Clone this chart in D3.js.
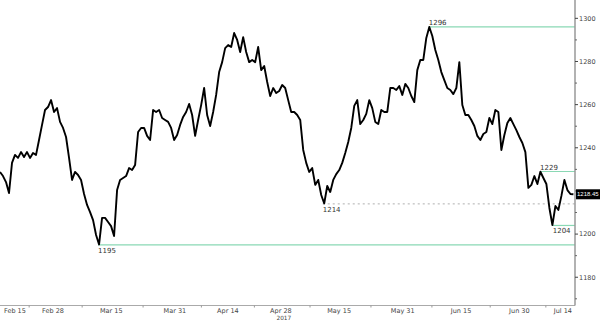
<!DOCTYPE html>
<html>
<head>
<meta charset="utf-8">
<script src="https://cdn.jsdelivr.net/npm/d3@7"></script>
<style>
	body { margin: 0; background: #fff; }
	svg { display: block; font-family: "DejaVu Sans", sans-serif; }
	.lbl { font-size: 7px; fill: #333; }
	.tick-lbl { font-size: 6.5px; fill: #444; }
	.tag-lbl { font-family: "Liberation Sans", Arial, sans-serif; font-size: 6px; fill: #fff; }
</style>
</head>
<body>
<div class="chart"></div>
<script>
// gold spot, sampled across trading days (weekends removed)
var prices = [
	1228.8, 1226.9, 1224.1, 1219.0, 1233.0, 1236.7, 1235.3, 1238.0, 1235.7, 1238.0,
	1235.3, 1237.6, 1236.7, 1243.6, 1250.6, 1257.5, 1258.9, 1262.1, 1256.6, 1258.4,
	1252.0, 1249.2, 1245.0, 1235.3, 1225.1, 1228.8, 1227.4, 1225.1, 1218.6, 1213.5,
	1210.2, 1206.5, 1199.6, 1195.2, 1207.5, 1207.5, 1205.6, 1203.7, 1199.1, 1220.4,
	1225.1, 1226.0, 1226.9, 1230.6, 1229.7, 1232.0, 1247.3, 1249.2, 1249.2, 1245.5,
	1243.6, 1257.5, 1256.6, 1257.5, 1253.8, 1252.9, 1252.0, 1249.2, 1243.6, 1245.9,
	1250.6, 1254.3, 1256.6, 1260.3, 1255.2, 1245.5, 1252.9, 1259.8, 1267.7, 1255.2,
	1250.1, 1256.6, 1264.5, 1275.1, 1279.7, 1286.2, 1287.6, 1286.7, 1293.2, 1290.0,
	1284.4, 1291.3, 1284.4, 1279.7, 1280.7, 1279.7, 1286.7, 1276.0, 1277.9, 1270.5,
	1264.0, 1267.7, 1265.4, 1266.3, 1269.1, 1267.7, 1262.1, 1256.6, 1256.6, 1255.2,
	1252.9, 1239.0, 1233.0, 1228.8, 1230.6, 1222.8, 1225.1, 1218.1, 1214.2, 1222.3,
	1219.5, 1225.1, 1227.8, 1229.7, 1233.0, 1237.6, 1242.7, 1249.2, 1259.4, 1262.1,
	1251.0, 1252.9, 1255.7, 1262.1, 1258.4, 1252.0, 1251.0, 1257.5, 1256.6, 1256.6,
	1267.7, 1267.7, 1266.8, 1268.6, 1264.5, 1269.6, 1267.7, 1264.0, 1261.2, 1276.0,
	1280.7, 1280.7, 1290.9, 1296.0, 1291.8, 1285.3, 1280.7, 1275.1, 1271.4, 1267.7,
	1266.8, 1264.9, 1267.7, 1279.7, 1259.8, 1255.2, 1255.2, 1252.9, 1250.1, 1245.5,
	1243.6, 1246.4, 1247.3, 1253.8, 1251.0, 1257.5, 1256.6, 1239.0, 1245.9, 1251.5,
	1253.8, 1251.0, 1248.2, 1245.0, 1242.2, 1238.0, 1221.4, 1222.8, 1226.9, 1223.2,
	1228.9, 1226.0, 1223.2, 1212.1, 1204.2, 1213.0, 1211.2, 1217.7, 1225.1, 1220.4,
	1218.6, 1218.45
];
var firstDay = 0;
var lastDay = 108.2;

var dateLabels = ["Feb 15", "Feb 28", "Mar 15", "Mar 31", "Apr 14", "Apr 28", "May 15", "May 31", "Jun 15", "Jun 30", "Jul 14"];
var dateDays = [1, 10, 21, 33, 43, 53, 64, 76, 87, 98, 108];
var yearLabel = "2017";

var priceTicks = [1180, 1200, 1240, 1260, 1280, 1300]; // 1220 sits under the last-price tag
var priceMinor = [1170, 1190, 1210, 1220, 1230, 1250, 1270, 1290];

var levelValues = [1296, 1195, 1214, 1229, 1204];
var levelFromDay = [80.9, 18.5, 60.9, 101.9, 104.3];
var levelAbove = [true, false, false, true, false];
var levelDotted = [false, false, true, false, false];

var lastPrice = "1218.45";

drawChart();

function drawChart() {
	var width = 600, height = 321;
	var plotRight = 575, plotBottom = 305.5;

	var svg = d3.select(".chart")
		.append("svg")
		.attr("width", width)
		.attr("height", height);

	var x = d3.scaleLinear().domain([0, 108.5]).range([0, plotRight]);
	var y = d3.scaleLinear().domain([1166.9, 1308.5]).range([plotBottom, 0]);

	var step = (lastDay - firstDay) / (prices.length - 1);

	// level lines
	for (var i = 0; i < levelValues.length; i++) {
		var ly = y(levelValues[i]);
		var lx = x(levelFromDay[i]);
		svg.append("line")
			.attr("x1", lx).attr("x2", plotRight)
			.attr("y1", ly).attr("y2", ly)
			.attr("stroke", levelDotted[i] ? "#999" : "#8ad8b4")
			.attr("stroke-width", levelDotted[i] ? 0.8 : 1.2)
			.attr("stroke-dasharray", levelDotted[i] ? "2,3" : null);
		svg.append("text")
			.attr("class", "lbl")
			.attr("x", lx)
			.attr("y", levelAbove[i] ? ly - 2 : ly + 8)
			.text(levelValues[i]);
	}

	// price line
	var line = d3.line()
		.x(function(d, i) { return x(firstDay + i * step); })
		.y(function(d) { return y(d); });
	svg.append("path")
		.datum(prices)
		.attr("d", line)
		.attr("fill", "none")
		.attr("stroke", "#000")
		.attr("stroke-width", 1.9)
		.attr("stroke-linejoin", "round");

	// bottom axis
	svg.append("line")
		.attr("x1", 0).attr("x2", plotRight)
		.attr("y1", plotBottom).attr("y2", plotBottom)
		.attr("stroke", "#aaa");
	for (var j = 0; j < dateDays.length - 1; j++) {
		var tx = x((dateDays[j] + dateDays[j + 1]) / 2);
		svg.append("line")
			.attr("x1", tx).attr("x2", tx)
			.attr("y1", plotBottom).attr("y2", plotBottom + 2)
			.attr("stroke", "#999");
	}
	for (var k = 0; k < dateLabels.length; k++) {
		var t = svg.append("text")
			.attr("class", "tick-lbl")
			.attr("text-anchor", "middle")
			.attr("y", 312.5)
			.text(dateLabels[k]);
		var w = t.node().getComputedTextLength();
		var cx = Math.max(4 + w / 2, Math.min(572 - w / 2, x(dateDays[k])));
		t.attr("x", cx);
		if (dateLabels[k] == "Apr 28") {
			svg.append("text")
				.attr("class", "tick-lbl")
				.attr("text-anchor", "middle")
				.attr("x", cx + 3)
				.attr("y", 320)
				.style("font-size", "5.8px")
				.text(yearLabel);
		}
	}

	// right axis
	svg.append("line")
		.attr("x1", plotRight).attr("x2", plotRight)
		.attr("y1", 0).attr("y2", plotBottom)
		.attr("stroke", "#999")
		.attr("stroke-width", 1.5);
	priceMinor.forEach(function(v) {
		svg.append("line")
			.attr("x1", plotRight).attr("x2", plotRight + 2)
			.attr("y1", y(v)).attr("y2", y(v))
			.attr("stroke", "#666");
	});
	priceTicks.forEach(function(v) {
		svg.append("line")
			.attr("x1", plotRight).attr("x2", plotRight + 3)
			.attr("y1", y(v)).attr("y2", y(v))
			.attr("stroke", "#444");
		svg.append("text")
			.attr("class", "tick-lbl")
			.attr("x", plotRight + 4)
			.attr("y", y(v) + 2.3)
			.text(v);
	});

	// last price tag
	var py = y(+lastPrice);
	svg.append("rect")
		.attr("x", plotRight + 1).attr("y", py - 5)
		.attr("width", 24).attr("height", 10)
		.attr("fill", "#000");
	svg.append("text")
		.attr("class", "tag-lbl")
		.attr("x", plotRight + 2)
		.attr("y", py + 2.2)
		.text(lastPrice);
}
</script>
</body>
</html>
